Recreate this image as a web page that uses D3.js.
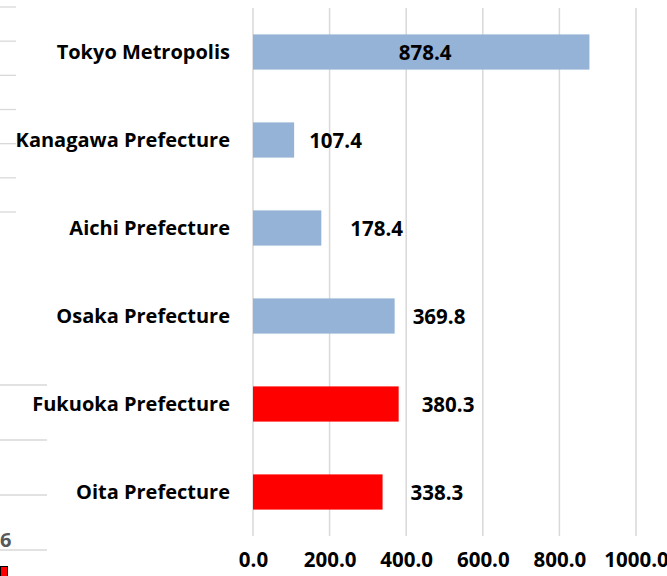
<!DOCTYPE html>
<html>
<head>
<meta charset="utf-8">
<script src="https://cdn.jsdelivr.net/npm/d3@7"></script>
<style>
  html, body { margin: 0; padding: 0; background: #fff; }
  svg text { font-family: "Open Sans", "Liberation Sans", Arial, sans-serif; font-weight: bold; }
</style>
</head>
<body>
<div id="chart"></div>
<script>
// data
const categories = ['Tokyo Metropolis', 'Kanagawa Prefecture', 'Aichi Prefecture',
  'Osaka Prefecture', 'Fukuoka Prefecture', 'Oita Prefecture'];
const values = [878.4, 107.4, 178.4, 369.8, 380.3, 338.3];
const highlighted = [false, false, false, false, true, true];
const xTicks = [0, 200, 400, 600, 800, 1000];
// label nudges (px from bar end; null = centred inside bar)
const labelNudge = [null, 15, 29, 18, 23, 28];

const width = 667, height = 576;
const margin = { top: 8, right: 31, bottom: 40, left: 253 };

const svg = d3.select('#chart').append('svg')
  .attr('width', width)
  .attr('height', height);

const x = d3.scaleLinear().domain([0, 1000]).range([margin.left, width - margin.right]);
const y = d3.scaleBand().domain(categories)
  .range([margin.top, height - margin.bottom])
  .paddingInner(0.6).paddingOuter(0.3);

// cropped bits of the neighbouring chart on the left
const ghostTop = d3.scaleLinear().domain([0, 6]).range([212, 7]);
const ghostBottom = d3.scaleLinear().domain([0, 3]).range([550, 385]);
const ghost = svg.append('g').attr('stroke', '#d9d9d9').attr('stroke-width', 1.3);
ghost.selectAll('.gt').data(d3.range(7)).enter().append('line')
  .attr('x1', 0).attr('x2', 16)
  .attr('y1', d => ghostTop(d)).attr('y2', d => ghostTop(d));
ghost.selectAll('.gb').data(d3.range(4)).enter().append('line')
  .attr('x1', 0).attr('x2', 47)
  .attr('y1', d => ghostBottom(d)).attr('y2', d => ghostBottom(d));
svg.append('text').attr('x', 0).attr('y', 547)
  .attr('fill', '#595959').style('font-size', '20px').text('6');
svg.append('rect').attr('x', 0.5).attr('y', 566.5).attr('width', 7).attr('height', 10)
  .attr('fill', '#ff0000').attr('stroke', '#000').attr('stroke-width', 1);

// gridlines
const grid = svg.append('g');
grid.selectAll('line').data(xTicks).enter().append('line')
  .attr('x1', d => x(d)).attr('x2', d => x(d))
  .attr('y1', margin.top).attr('y2', height - margin.bottom)
  .attr('stroke', '#d9d9d9').attr('stroke-width', 1.5);

// x tick labels
const xAxis = d3.axisBottom(x).tickValues(xTicks).tickSize(0).tickPadding(0)
  .tickFormat(d3.format('.1f'));
const gx = svg.append('g').attr('transform', `translate(0,${height - 16})`).call(xAxis);
gx.select('.domain').remove();
gx.selectAll('text').attr('fill', '#000').style('font-size', '20.5px')
  .attr('dy', '0.35em').attr('y', 0);

// bars
svg.selectAll('.bar').data(categories).enter().append('rect')
  .attr('class', 'bar')
  .attr('x', x(0))
  .attr('y', d => y(d))
  .attr('width', (d, i) => x(values[i]) - x(0))
  .attr('height', y.bandwidth())
  .attr('fill', (d, i) => highlighted[i] ? '#ff0000' : '#95b3d7');

// category labels
svg.selectAll('.cat').data(categories).enter().append('text')
  .attr('class', 'cat')
  .attr('x', 230)
  .attr('y', d => y(d) + y.bandwidth() / 2)
  .attr('dy', '0.35em')
  .attr('text-anchor', 'end')
  .style('font-size', '20px')
  .text(d => d);

// value labels
svg.selectAll('.val').data(categories).enter().append('text')
  .attr('class', 'val')
  .attr('x', (d, i) => labelNudge[i] === null ? (x(0) + x(values[i])) / 2 + 4 : x(values[i]) + labelNudge[i])
  .attr('y', d => y(d) + y.bandwidth() / 2 + 1)
  .attr('dy', '0.35em')
  .attr('text-anchor', (d, i) => labelNudge[i] === null ? 'middle' : 'start')
  .style('font-size', '20.5px')
  .text((d, i) => d3.format('.1f')(values[i]));
</script>
</body>
</html>
